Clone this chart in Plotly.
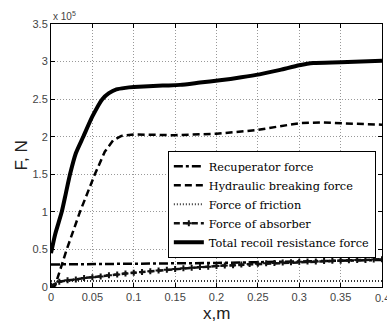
import plotly.graph_objects as go

# values in units of 1e5 N
x_total = [0, 0.005, 0.013, 0.018, 0.023, 0.03, 0.039, 0.05, 0.062, 0.07, 0.079, 0.09, 0.1, 0.135, 0.156, 0.18, 0.204, 0.23, 0.252, 0.277, 0.30, 0.317, 0.35, 0.4]
y_total = [0.45, 0.7, 1.0, 1.25, 1.5, 1.78, 2.0, 2.27, 2.5, 2.58, 2.63, 2.65, 2.66, 2.68, 2.69, 2.72, 2.75, 2.79, 2.83, 2.89, 2.95, 2.98, 2.99, 3.01]

x_hyd = [0, 0.005, 0.019, 0.035, 0.053, 0.065, 0.075, 0.085, 0.1, 0.15, 0.2, 0.25, 0.277, 0.3, 0.325, 0.35, 0.4]
y_hyd = [0.0, 0.02, 0.5, 1.0, 1.5, 1.8, 1.95, 2.01, 2.03, 2.02, 2.04, 2.09, 2.14, 2.18, 2.19, 2.18, 2.16]

x_rec = [0, 0.1, 0.2, 0.3, 0.4]
y_rec = [0.30, 0.31, 0.32, 0.34, 0.36]

x_fric = [0, 0.1, 0.2, 0.3, 0.4]
y_fric = [0.08, 0.08, 0.08, 0.08, 0.08]

x_abs = [0, 0.01, 0.02, 0.03, 0.04, 0.05, 0.06, 0.07, 0.08, 0.09, 0.10,
         0.11, 0.12, 0.13, 0.14, 0.15, 0.16, 0.17, 0.18, 0.19, 0.20,
         0.21, 0.22, 0.23, 0.24, 0.25, 0.26, 0.27, 0.28, 0.29, 0.30,
         0.31, 0.32, 0.33, 0.34, 0.35, 0.36, 0.37, 0.38, 0.39, 0.40]
y_abs = [0.02, 0.07, 0.09, 0.10, 0.12, 0.13, 0.14, 0.155, 0.165, 0.18, 0.19,
         0.20, 0.21, 0.22, 0.23, 0.24, 0.25, 0.255, 0.265, 0.27, 0.28,
         0.285, 0.29, 0.30, 0.305, 0.31, 0.315, 0.32, 0.325, 0.33, 0.335,
         0.34, 0.34, 0.345, 0.35, 0.35, 0.355, 0.36, 0.36, 0.365, 0.37]

x_ticks = [0, 0.05, 0.1, 0.15, 0.2, 0.25, 0.3, 0.35, 0.4]
x_ticklabels = ["0", "0.05", "0.1", "0.15", "0.2", "0.25", "0.3", "0.35", "0.4"]
y_ticks = [0, 0.5, 1, 1.5, 2, 2.5, 3, 3.5]
y_ticklabels = ["0", "0.5", "1", "1.5", "2", "2.5", "3", "3.5"]

fig = go.Figure()
fig.add_trace(go.Scatter(x=x_rec, y=y_rec, mode="lines", name="Recuperator force",
                         line=dict(color="black", width=2.5, dash="9px,3px,3px,3px")))
fig.add_trace(go.Scatter(x=x_hyd, y=y_hyd, mode="lines", name="Hydraulic breaking force",
                         line=dict(color="black", width=2.5, dash="7px,4px")))
fig.add_trace(go.Scatter(x=x_fric, y=y_fric, mode="lines", name="Force of friction",
                         line=dict(color="#333", width=2, dash="1px,2px")))
fig.add_trace(go.Scatter(x=x_abs, y=y_abs, mode="lines+markers", name="Force of absorber",
                         line=dict(color="#111", width=2.5, dash="6px,3px"),
                         marker=dict(symbol="cross", size=5, color="#111")))
fig.add_trace(go.Scatter(x=x_total, y=y_total, mode="lines", name="Total recoil resistance force",
                         line=dict(color="black", width=4, shape="spline", smoothing=0.6)))

tick_font = dict(family="Liberation Sans, Arial", size=11, color="#444")
axis_common = dict(showline=True, linecolor="black", linewidth=1, mirror="ticks",
                   ticks="inside", ticklen=4, tickcolor="black",
                   showgrid=True, gridcolor="#999", griddash="1px,2px", gridwidth=1,
                   zeroline=False, automargin=False, tickfont=tick_font)

fig.update_xaxes(range=[0, 0.4], tickvals=x_ticks, ticktext=x_ticklabels, **axis_common)
fig.update_yaxes(range=[0, 3.5], tickvals=y_ticks, ticktext=y_ticklabels, **axis_common)

# last x tick label sits on the page edge; draw it so it shows partly, as in the reference
fig.add_annotation(text=x_ticklabels[-1], xref="x", yref="paper", x=x_ticks[-1], y=0, yshift=-3,
                   xanchor="center", yanchor="top", showarrow=False, font=tick_font)

title_font = dict(family="Liberation Sans, Arial", size=17, color="#222")
fig.add_annotation(text="x,m", xref="paper", yref="paper", x=0.5, y=0, yshift=-26,
                   xanchor="center", yanchor="middle", showarrow=False, font=title_font)
fig.add_annotation(text="F, N", xref="paper", yref="paper", x=0, y=0.5, xshift=-30,
                   xanchor="center", yanchor="middle", textangle=-90, showarrow=False, font=title_font)
fig.add_annotation(text="x 10<sup>5</sup>", xref="paper", yref="paper", x=0.0, y=1.0,
                   xanchor="left", yanchor="bottom", showarrow=False,
                   font=dict(family="Liberation Sans, Arial", size=10, color="#444"))

fig.update_layout(
    width=387, height=325,
    margin=dict(l=51, r=5, t=24, b=38, autoexpand=False),
    plot_bgcolor="white", paper_bgcolor="white",
    showlegend=True,
    legend=dict(x=0.353, y=0.518, xanchor="left", yanchor="top",
                bgcolor="white", bordercolor="black", borderwidth=1,
                font=dict(family="DejaVu Serif", size=11.3, color="black"),
                tracegroupgap=0, itemwidth=30),
)

fig.write_html("out.html", config={"displayModeBar": False},
               post_script="document.body.style.margin='0';")
